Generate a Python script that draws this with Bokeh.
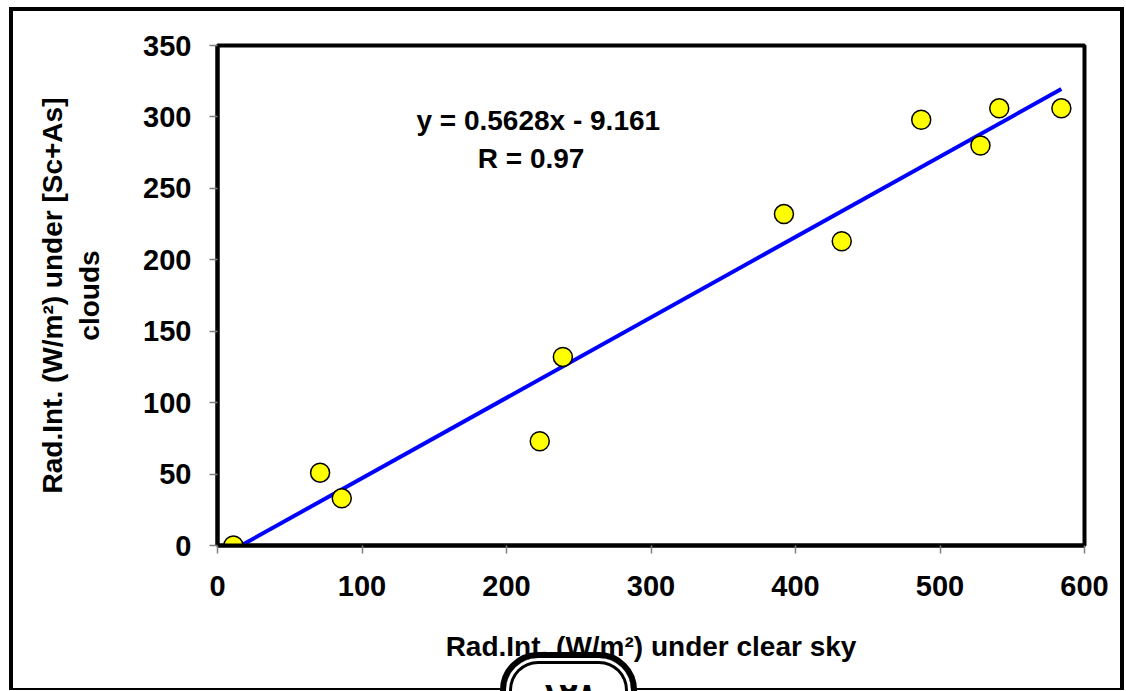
from bokeh.plotting import figure
from bokeh.models import Range1d, Label, FixedTicker, InlineStyleSheet
from bokeh.embed import file_html
from bokeh.resources import INLINE

# Data
clear_sky = [11, 71, 86, 223, 239, 392, 432, 487, 528, 541, 584]
sc_as = [0, 51, 33, 73, 132, 232, 213, 298, 280, 306, 306]
slope = 0.5628
intercept = -9.161
eq_text = "y = 0.5628x - 9.161"
r_text = "R = 0.97"
x_ticks = [0, 100, 200, 300, 400, 500, 600]
y_ticks = [0, 50, 100, 150, 200, 250, 300, 350]
x_title = "Rad.Int. (W/m\u00b2) under clear sky"
y_title = "Rad.Int. (W/m\u00b2) under [Sc+As]\nclouds"
page_no = "\u0661\u0662\u0668"

FONT = "Liberation Sans"

p = figure(width=1126, height=691, output_backend="svg", toolbar_location=None,
           x_range=Range1d(0, 600), y_range=Range1d(0, 350))
p.min_border_left = 217
p.min_border_right = 42
p.min_border_top = 45
p.min_border_bottom = 146
p.background_fill_color = "white"
p.border_fill_color = None
p.outline_line_color = "black"
p.outline_line_width = 4
p.xgrid.visible = False
p.ygrid.visible = False

for ax in (p.xaxis, p.yaxis):
    ax.axis_line_color = "black"
    ax.axis_line_width = 4
    ax.major_tick_in = 0
    ax.major_tick_out = 8
    ax.major_tick_line_color = "#808080"
    ax.major_tick_line_width = 1.5
    ax.minor_tick_line_color = None
    ax.major_label_text_font = FONT
    ax.major_label_text_font_style = "bold"
    ax.major_label_text_font_size = "29px"
    ax.major_label_text_color = "black"
    ax.axis_label_text_font = FONT
    ax.axis_label_text_font_style = "bold"
    ax.axis_label_text_font_size = "28px"
    ax.axis_label_text_color = "black"

p.xaxis.ticker = FixedTicker(ticks=x_ticks)
p.yaxis.ticker = FixedTicker(ticks=y_ticks)
p.xaxis.major_label_standoff = 22
p.yaxis.major_label_standoff = 18
p.xaxis.axis_label = x_title
p.yaxis.axis_label = y_title
p.xaxis.axis_label_standoff = 32
p.yaxis.axis_label_standoff = 35

# trend line across the data x-range
xs_line = [min(clear_sky), max(clear_sky)]
ys_line = [slope * x + intercept for x in xs_line]
p.line(xs_line, ys_line, line_color="#0000FF", line_width=4)

p.scatter(clear_sky, sc_as, size=19, marker="circle", fill_color="#FFFF00",
          line_color="black", line_width=1.5)

p.add_layout(Label(x=222, y=297.5, text=eq_text, text_align="center", text_baseline="middle",
                   text_font=FONT, text_font_style="bold", text_font_size="28px",
                   text_color="black"))
p.add_layout(Label(x=217, y=271, text=r_text, text_align="center", text_baseline="middle",
                   text_font=FONT, text_font_style="bold", text_font_size="28px",
                   text_color="black"))

# page frame and page-number badge (drawn around the canvas)
css = """
:host {
  position: relative;
  overflow: hidden;
  background-color: white;
}
:host::before {
  content: "";
  position: absolute;
  left: 9px; top: 7px; width: 1115px; height: 683px;
  box-sizing: border-box;
  border-style: solid; border-color: black;
  border-width: 4px 4px 2px 4px;
  z-index: 10; pointer-events: none;
}
:host::after {
  content: "%s";
  position: absolute;
  left: 500px; top: 652px; width: 137px; height: 80px;
  box-sizing: border-box;
  border: 6px solid black;
  border-radius: 38px;
  box-shadow: inset 0 0 0 3px white, inset 0 0 0 6px black;
  background: white;
  padding-top: 21px;
  font: bold 30px "DejaVu Sans";
  line-height: 30px;
  text-align: center;
  color: black;
  z-index: 10; pointer-events: none;
}
""" % page_no
p.stylesheets = [InlineStyleSheet(css=css)]

open("out.html", "w").write(file_html(p, INLINE))
